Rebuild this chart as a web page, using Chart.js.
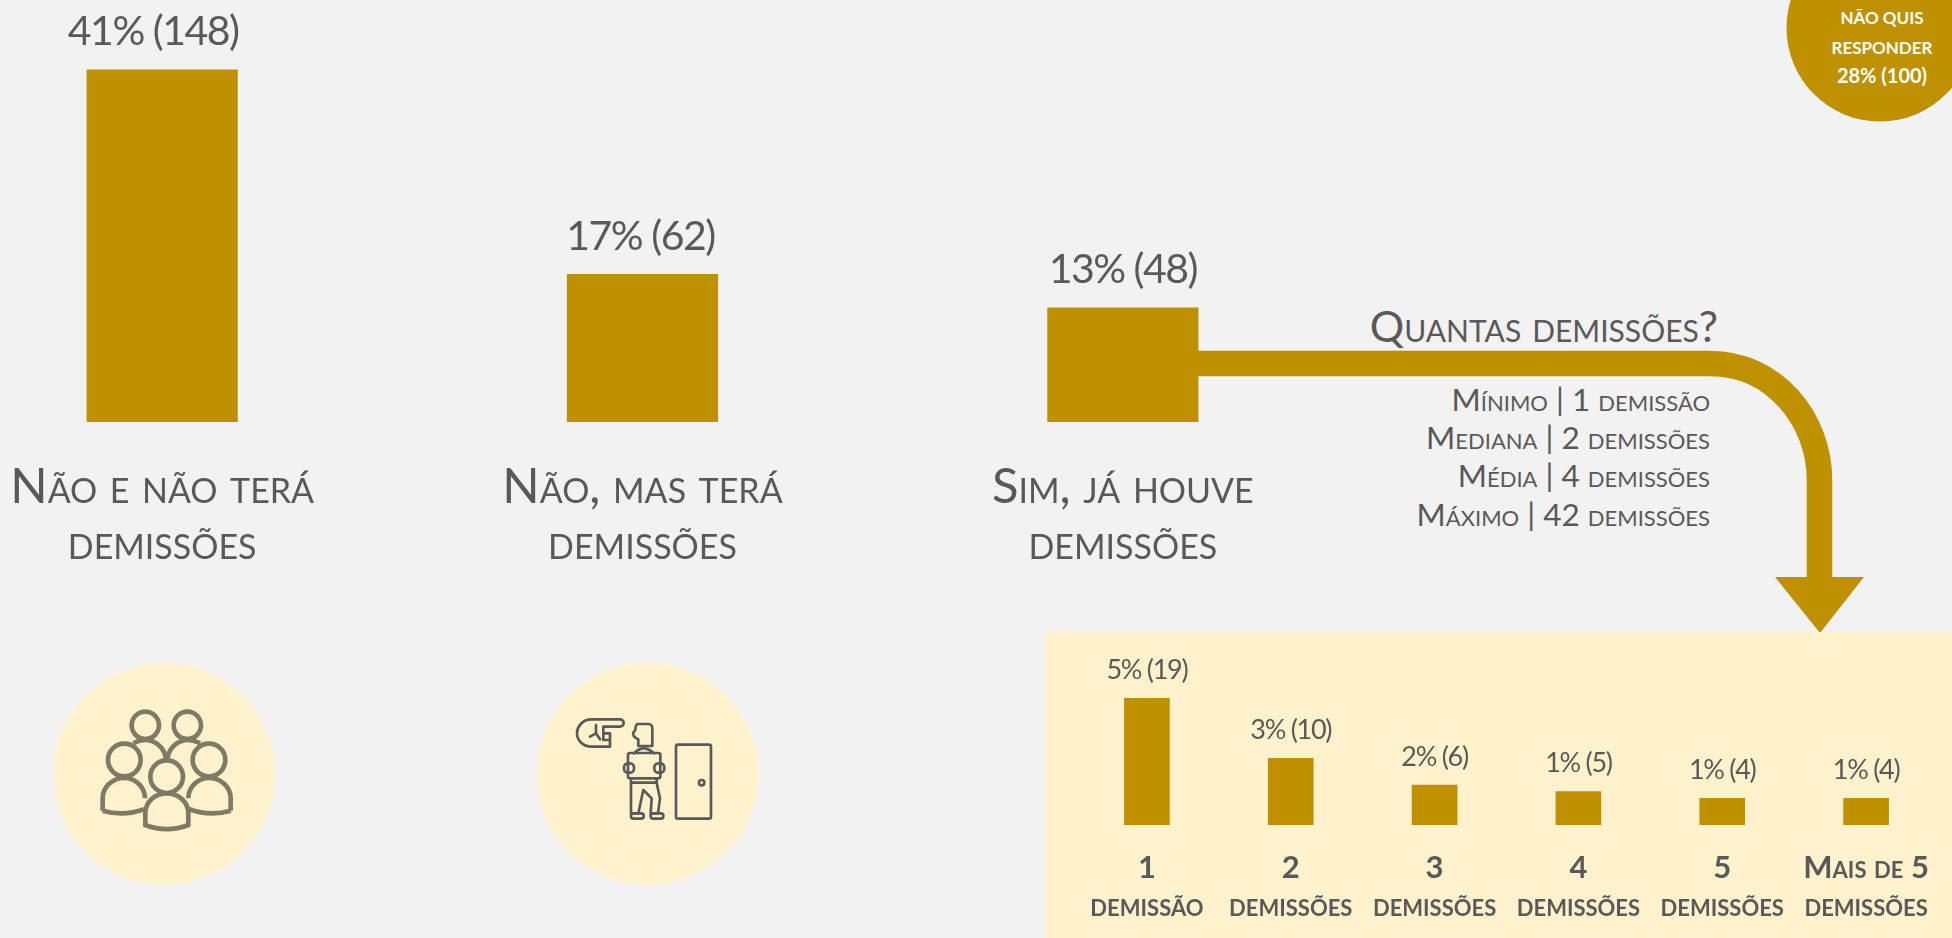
<!DOCTYPE html>
<html lang="pt">
<head>
<meta charset="utf-8">
<title>Demissões</title>
<script src="https://cdn.jsdelivr.net/npm/chart.js@4"></script>
<style>
html,body{margin:0;padding:0;background:#F2F2F2;width:1952px;height:938px;overflow:hidden;font-family:Lato,sans-serif;color:#595959}
canvas,svg,.t,#panel{position:absolute}
#panel{left:1045px;top:632px;width:907px;height:306px;background:#FFF2CC}
#c1{left:-78px;top:0}
#c2{left:1075px;top:633px}
.t{white-space:nowrap;line-height:1;transform:translateY(-50%)}
.sc{font-variant:small-caps;font-weight:400}
.r{text-align:right}
.w{color:#fff;font-weight:700;text-align:center;width:150px;left:1807px}
</style>
</head>
<body>
<svg width="1952" height="938" style="left:0;top:0">
  <circle cx="1880" cy="28" r="93.5" fill="#BF9000"/>
  <circle cx="164" cy="774" r="111" fill="#FFF2CC"/>
  <circle cx="647.5" cy="774" r="111" fill="#FFF2CC"/>
  <path d="M1190 363.5H1710C1775 363.5 1819.5 420 1819.5 480V580" fill="none" stroke="#BF9000" stroke-width="25.5"/>
  <path d="M1775 577H1864L1820 633Z" fill="#BF9000"/>
  <g transform="translate(40 650) scale(.3333)" fill="none" stroke="#7F7A66" stroke-width="14">
    <circle cx="316" cy="226" r="41"/><circle cx="442" cy="226" r="41"/>
    <path d="M280 280Q320 258 352 282Q375 300 378 328M480 280Q440 258 408 282Q385 300 382 328"/>
    <circle cx="253" cy="330" r="49"/><circle cx="507" cy="330" r="49"/>
    <path d="M188 482V445C188 410 218 384 253 384C290 384 315 415 315 445M188 482Q250 500 312 478"/>
    <path d="M572 482V445C572 410 542 384 507 384C470 384 445 415 445 445M572 482Q510 500 448 478"/>
    <circle cx="380" cy="380" r="49"/>
    <path d="M316 525V490C316 455 345 430 380 430C415 430 445 455 445 490V525Q380 550 316 525Z"/>
  </g>
  <g transform="translate(530 650) scale(.3333)" fill="none" stroke="#595959" stroke-width="8" stroke-linejoin="round" stroke-linecap="round">
    <path d="M270 208H185C155 208 141 232 141 250C141 270 158 290 185 290H240V270H220M270 208A10 10 0 0 1 270 230H220V250H240V270M220 250V270"/>
    <path d="M198 225V250L180 260M198 250L210 268"/>
    <path d="M322 222H355Q367 222 367 236V288H325V268Q306 258 310 248L316 240Q316 226 322 222Z"/>
    <path d="M312 310Q340 280 372 310"/>
    <rect x="294" y="309" width="97" height="76" rx="6"/>
    <rect x="282" y="340" width="30" height="28" rx="12"/><rect x="373" y="340" width="30" height="28" rx="12"/>
    <path d="M303 385V398H380V385M303 398V490M380 398L390 445L384 490H362L365 445L340 420L325 490H303"/>
    <rect x="303" y="490" width="38" height="16" rx="7"/><rect x="362" y="490" width="38" height="16" rx="7"/>
    <rect x="438" y="284" width="105" height="222" rx="6"/>
    <circle cx="515" cy="398" r="8"/>
  </g>
</svg>
<div id="panel"></div>
<canvas id="c1" width="1441" height="938"></canvas>
<canvas id="c2" width="863" height="305"></canvas>

<div class="t sc r" style="right:234px;top:325px;font-size:43px">Quantas demissões?</div>
<div class="t sc r" style="right:242px;top:400px;font-size:31.5px">Mínimo | 1 demissão</div>
<div class="t sc r" style="right:242px;top:438px;font-size:31.5px">Mediana | 2 demissões</div>
<div class="t sc r" style="right:242px;top:476px;font-size:31.5px">Média | 4 demissões</div>
<div class="t sc r" style="right:242px;top:515px;font-size:31.5px">Máximo | 42 demissões</div>
<div class="t w" style="top:17px;font-size:17px">NÃO QUIS</div>
<div class="t w" style="top:47px;font-size:17px">RESPONDER</div>
<div class="t w" style="top:75px;font-size:20px">28% (100)</div>

<script>
const mainCategories = [["Não e não terá", "demissões"], ["Não, mas terá", "demissões"], ["Sim, já houve", "demissões"]];
const mainCounts = [148, 62, 48];
const mainLabels = ["41% (148)", "17% (62)", "13% (48)"];

const detailCategories = [["1", "demissão"], ["2", "demissões"], ["3", "demissões"], ["4", "demissões"], ["5", "demissões"], ["Mais de 5", "demissões"]];
const detailCounts = [19, 10, 6, 5, 4, 4];
const detailLabels = ["5% (19)", "3% (10)", "2% (6)", "1% (5)", "1% (4)", "1% (4)"];

const GOLD = "#BF9000", GREY = "#595959";

function barLabels(o, texts) {
  return {
    id: "barLabels",
    afterDatasetsDraw(chart) {
      const ctx = chart.ctx;
      ctx.save();
      ctx.font = o.labelFont;
      ctx.letterSpacing = o.spacing;
      ctx.fillStyle = GREY;
      ctx.textAlign = "center";
      ctx.textBaseline = "middle";
      chart.getDatasetMeta(0).data.forEach((bar, i) => ctx.fillText(texts[i], bar.x + (o.shift[i] || 0), bar.y - o.gap));
      ctx.restore();
    }
  };
}

function makeChart(id, categories, counts, texts, o) {
  return new Chart(document.getElementById(id), {
    type: "bar",
    data: { labels: categories, datasets: [{ data: counts, backgroundColor: GOLD, borderWidth: 0, barThickness: o.barWidth }] },
    options: {
      responsive: false,
      animation: false,
      layout: { padding: 0 },
      plugins: { legend: { display: false }, tooltip: { enabled: false } },
      scales: {
        y: { display: false, min: 0, max: o.yMax },
        x: {
          grid: { display: false, drawTicks: false },
          border: { display: false },
          afterFit(scale) { scale.height = o.axisHeight; scale.paddingLeft = 0; scale.paddingRight = 0; },
          ticks: {
            autoSkip: false, maxRotation: 0, minRotation: 0,
            padding: o.tickPadding, color: GREY,
            font: { family: "Lato", size: o.tickSize, weight: o.tickWeight, lineHeight: o.tickLine }
          }
        }
      }
    },
    plugins: [barLabels(o, texts)]
  });
}

makeChart("c1", mainCategories, mainCounts, mainLabels, {
  barWidth: 150.5, yMax: 177.3, axisHeight: 516, tickPadding: 38, tickSize: 49,
  tickWeight: "small-caps 400", tickLine: 1.13, labelFont: "400 41px Lato", gap: 38, spacing: "-1.5px", shift: [-9, -2, 0]
});
makeChart("c2", detailCategories, detailCounts, detailLabels, {
  barWidth: 45, yMax: 28.8, axisHeight: 113, tickPadding: 24, tickSize: 31,
  tickWeight: "small-caps 700", tickLine: 1.22, labelFont: "400 27px Lato", gap: 28, spacing: "-1.3px", shift: []
});
</script>
</body>
</html>
